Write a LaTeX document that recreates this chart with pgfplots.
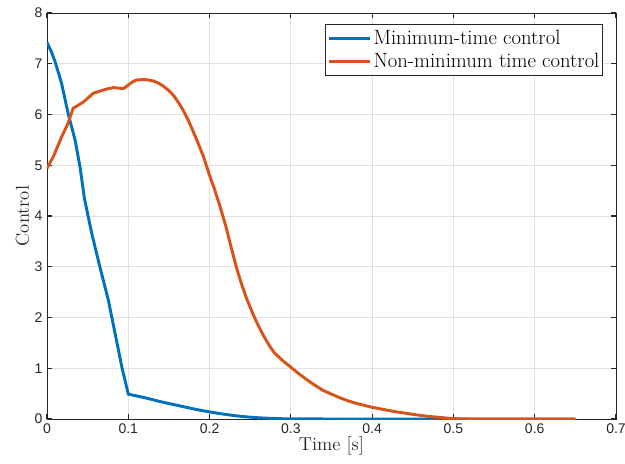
\documentclass[border=0pt]{standalone}
\usepackage{fontspec}
\usepackage{pgfplots}
\pgfplotsset{compat=1.18}
\newfontfamily\tickfont{Liberation Sans}
\definecolor{mblue}{rgb}{0,0.447,0.741}
\definecolor{morange}{rgb}{0.85,0.325,0.098}
\definecolor{maxis}{rgb}{0.15,0.15,0.15}
\definecolor{mgrid}{rgb}{0.88,0.88,0.88}
\begin{document}
\begin{tikzpicture}
\useasboundingbox (-35.25pt,-33.75pt) rectangle (433.5pt,314.25pt);
\begin{axis}[
  scale only axis,
  width=426.75pt, height=304.5pt,
  xmin=0, xmax=0.7, ymin=0, ymax=8,
  xtick={0,0.1,...,0.7},
  ytick={0,1,...,8},
  xticklabels={0,0.1,0.2,0.3,0.4,0.5,0.6,0.7},
  grid=major,
  major grid style={mgrid, line width=0.6pt},
  axis line style={maxis, line width=0.7pt},
  tick style={maxis, line width=0.8pt},
  major tick length=4pt,
  tick align=inside,
  ticklabel style={font=\tickfont\fontsize{10.5}{12}\selectfont, text=maxis},
  /pgf/number format/assume math mode=true,
  xlabel={Time [s]},
  ylabel={Control},
  label style={font=\fontsize{14}{16}\selectfont, text=maxis},
  xlabel style={yshift=5pt},
  ylabel style={yshift=-3pt},
  legend style={at={(1,1)}, anchor=north east, xshift=-9.75pt, yshift=-8.25pt,
    draw=maxis, fill=white, font=\fontsize{15.5}{18}\selectfont,
    inner sep=1.5pt, row sep=-1pt, legend cell align=left,
    nodes={inner xsep=1pt, inner ysep=3pt}},
  legend image code/.code={\draw[#1, line width=2.6pt] (0pt,0pt) -- (1.1cm,0pt);},
]
\addplot[mblue, line width=2.2pt] coordinates {
(0,7.42) (0.005,7.25) (0.01,7.04) (0.018,6.61) (0.026,6.02) (0.0345,5.50) (0.0406,4.97) (0.046,4.35) (0.055,3.66) (0.065,3.0) (0.0755,2.34) (0.0837,1.69) (0.092,1.03) (0.1,0.49) (0.11,0.455) (0.12,0.42) (0.13,0.38) (0.14,0.34) (0.15,0.305) (0.16,0.27) (0.17,0.235) (0.18,0.2) (0.19,0.168) (0.2,0.14) (0.21,0.113) (0.22,0.09) (0.23,0.068) (0.24,0.05) (0.25,0.036) (0.26,0.025) (0.27,0.016) (0.28,0.01) (0.29,0.005) (0.3,0.003) (0.35,0) (0.65,0)
};
\addlegendentry{Minimum-time control}
\addplot[morange, line width=2.2pt] coordinates {
(0,4.94) (0.0078,5.17) (0.018,5.56) (0.026,5.83) (0.032,6.12) (0.045,6.25) (0.057,6.42) (0.073,6.50) (0.082,6.53) (0.094,6.51) (0.1,6.58) (0.105,6.64) (0.11,6.68) (0.119,6.69) (0.125,6.68) (0.131,6.66) (0.137,6.62) (0.143,6.56) (0.15,6.47) (0.156,6.37) (0.162,6.23) (0.168,6.07) (0.174,5.88) (0.18,5.66) (0.186,5.43) (0.1925,5.17) (0.2,4.8) (0.206,4.53) (0.213,4.18) (0.22,3.8) (0.225,3.48) (0.23,3.17) (0.235,2.88) (0.24,2.63) (0.245,2.4) (0.25,2.2) (0.255,2.01) (0.26,1.84) (0.265,1.68) (0.27,1.54) (0.275,1.41) (0.28,1.3) (0.29,1.15) (0.3,1.02) (0.31,0.89) (0.32,0.77) (0.33,0.66) (0.34,0.56) (0.35,0.49) (0.36,0.42) (0.37,0.36) (0.38,0.31) (0.39,0.27) (0.4,0.23) (0.41,0.2) (0.42,0.17) (0.43,0.14) (0.443,0.11) (0.455,0.08) (0.47,0.05) (0.484,0.03) (0.495,0.013) (0.505,0.004) (0.52,0) (0.65,0)
};
\addlegendentry{Non-minimum time control}
\end{axis}
\end{tikzpicture}
\end{document}
